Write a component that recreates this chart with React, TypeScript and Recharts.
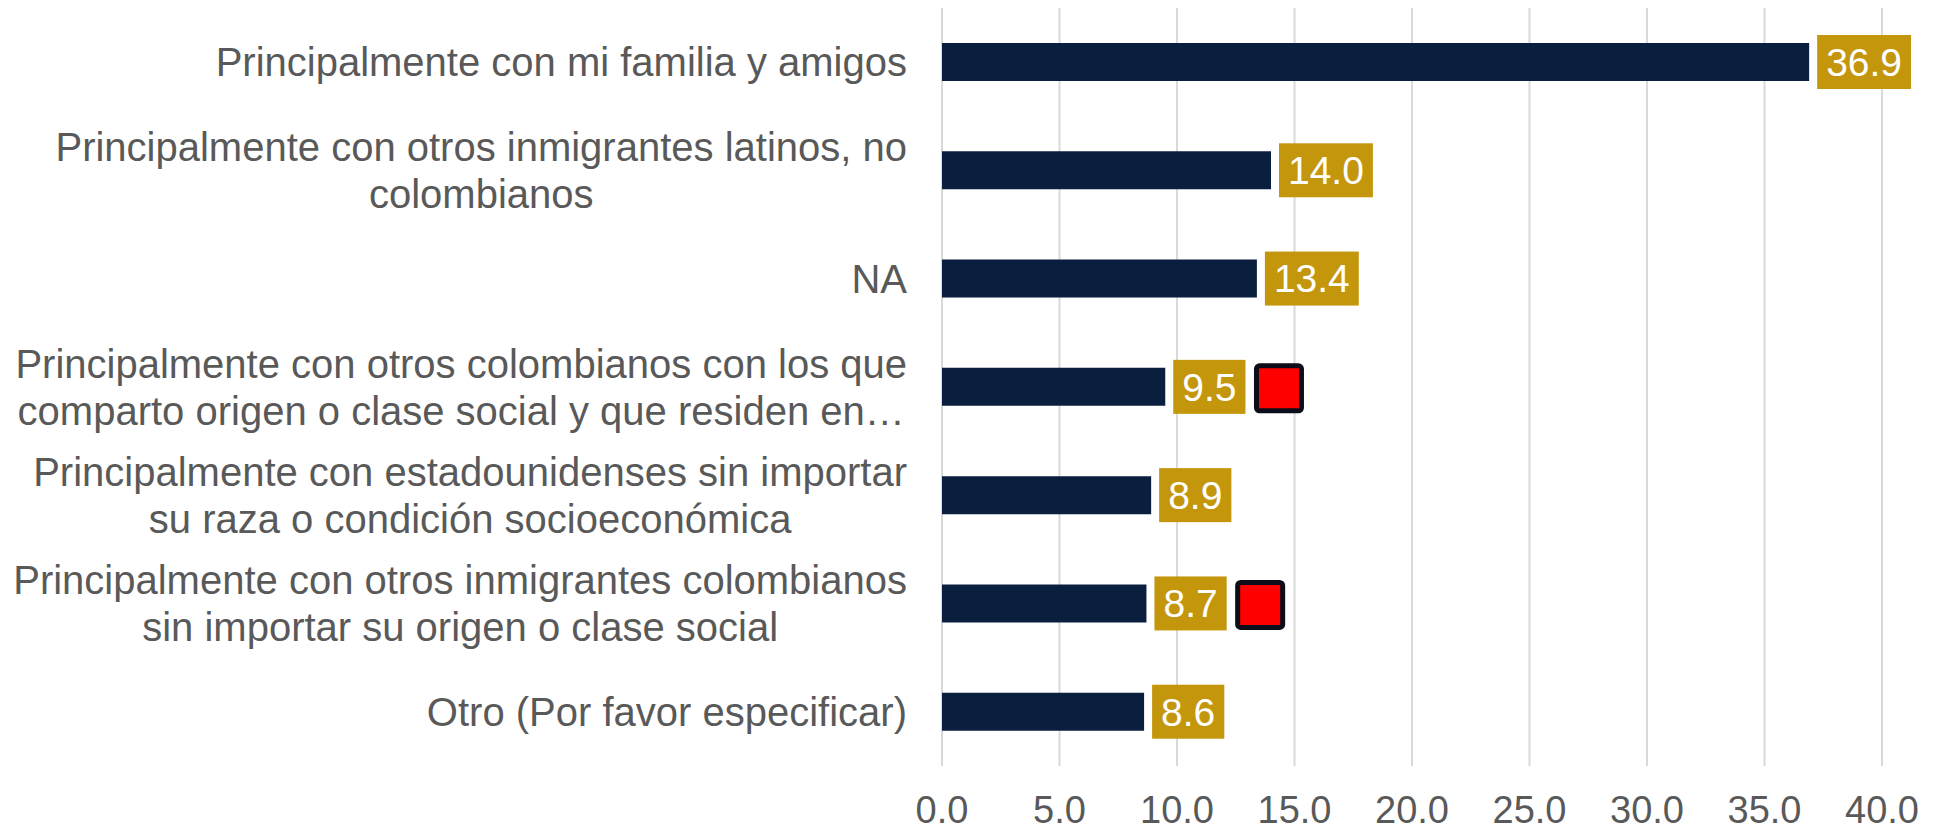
import React from "react";
import {
  BarChart,
  Bar,
  XAxis,
  YAxis,
  CartesianGrid,
  LabelList,
} from "recharts";

// categorías (saltos de línea tal como aparecen en el gráfico)
const CATEGORIAS = [
  "Principalmente con mi familia y amigos",
  "Principalmente con otros inmigrantes latinos, no\ncolombianos",
  "NA",
  "Principalmente con otros colombianos con los que\ncomparto origen o clase social y que residen en…",
  "Principalmente con estadounidenses sin importar\nsu raza o condición socioeconómica",
  "Principalmente con otros inmigrantes colombianos\nsin importar su origen o clase social",
  "Otro (Por favor especificar)",
];
const VALORES = [36.9, 14.0, 13.4, 9.5, 8.9, 8.7, 8.6];
// cuadro rojo junto a la etiqueta
const MARCADOS = [false, false, false, true, false, true, false];
const TICKS_X = [0, 5, 10, 15, 20, 25, 30, 35, 40];

const COLOR = {
  barra: "#0a1f3e",
  etiqueta: "#c4960c",
  texto: "#595959",
  grid: "#d9d9d9",
  marca: "#ff0000",
  borde: "#0d0d1a",
};

const FUENTE = '"Liberation Sans", Arial, sans-serif';

const datos = CATEGORIAS.map((cat, i) => ({
  cat,
  valor: VALORES[i],
  marcado: MARCADOS[i],
}));

let ctx: CanvasRenderingContext2D | null = null;
function medir(texto: string, size: number) {
  if (!ctx) ctx = document.createElement("canvas").getContext("2d");
  if (!ctx) return texto.length * size * 0.5;
  ctx.font = `${size}px ${FUENTE}`;
  return ctx.measureText(texto).width;
}

function TickCategoria(props: any) {
  const { x, y, payload } = props;
  const size = 40;
  const lineas: string[] = String(payload.value).split("\n");
  const ancho = Math.max(...lineas.map((l) => medir(l, size)));
  const derecha = x - 35;
  const cx = derecha - ancho / 2;
  const alto = 46.7;
  const inicio = y - ((lineas.length - 1) * alto) / 2 + size * 0.355;
  return (
    <g>
      {lineas.map((l, i) => (
        <text
          key={i}
          x={lineas.length === 1 ? derecha : cx}
          y={inicio + i * alto}
          textAnchor={lineas.length === 1 ? "end" : "middle"}
          fill={COLOR.texto}
          fontSize={size}
          fontFamily={FUENTE}
        >
          {l}
        </text>
      ))}
    </g>
  );
}

function TickValor(props: any) {
  const { x, y, payload } = props;
  return (
    <text
      x={x}
      y={y + 57}
      textAnchor="middle"
      fill={COLOR.texto}
      fontSize={38}
      fontFamily={FUENTE}
    >
      {Number(payload.value).toFixed(1)}
    </text>
  );
}

function EtiquetaValor(props: any) {
  const { x, y, width, height, value, index } = props;
  const size = 39;
  const texto = Number(value).toFixed(1);
  const w = medir(texto, size) + 18;
  const h = 54;
  const bx = x + width + 8;
  const cy = y + height / 2;
  const marcado = MARCADOS[index];
  return (
    <g>
      <rect x={bx} y={cy - h / 2} width={w} height={h} fill={COLOR.etiqueta} />
      <text
        x={bx + w / 2}
        y={cy + size * 0.355}
        textAnchor="middle"
        fill="#ffffff"
        fontSize={size}
        fontFamily={FUENTE}
      >
        {texto}
      </text>
      {marcado && (
        <rect
          x={bx + w + 11}
          y={cy - 21}
          width={45}
          height={45}
          rx={3}
          fill={COLOR.marca}
          stroke={COLOR.borde}
          strokeWidth={5}
        />
      )}
    </g>
  );
}

export default function App() {
  return (
    <div style={{ margin: -8, width: 1946, height: 832, background: "#fff" }}>
      <BarChart
        width={1946}
        height={832}
        data={datos}
        layout="vertical"
        margin={{ top: 8, right: 64, bottom: 0, left: 0 }}
      >
        <CartesianGrid horizontal={false} stroke={COLOR.grid} strokeWidth={2} />
        <XAxis
          type="number"
          domain={[0, 40]}
          ticks={TICKS_X}
          axisLine={false}
          tickLine={false}
          tickSize={0}
          tickMargin={0}
          height={66}
          tick={<TickValor />}
        />
        <YAxis
          type="category"
          dataKey="cat"
          width={942}
          axisLine={false}
          tickLine={false}
          tickSize={0}
          tickMargin={0}
          interval={0}
          tick={<TickCategoria />}
        />
        <Bar
          dataKey="valor"
          fill={COLOR.barra}
          barSize={38}
          isAnimationActive={false}
        >
          <LabelList dataKey="valor" content={<EtiquetaValor />} />
        </Bar>
      </BarChart>
    </div>
  );
}
